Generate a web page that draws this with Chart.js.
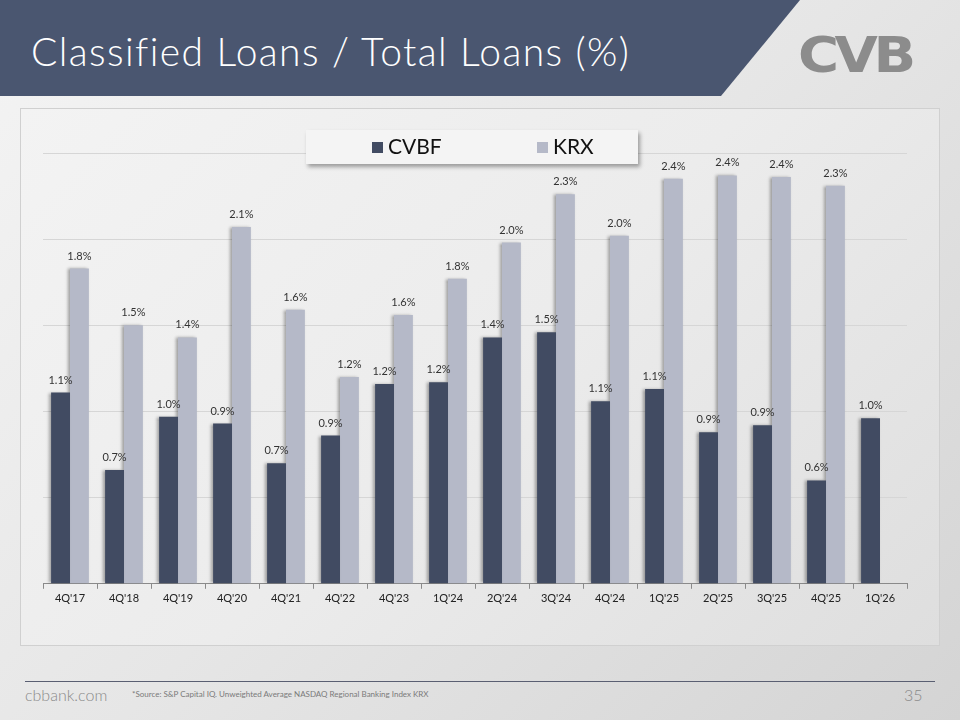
<!DOCTYPE html>
<html>
<head>
<meta charset="utf-8">
<script src="https://cdn.jsdelivr.net/npm/chart.js@4.4.1/dist/chart.umd.min.js"></script>
<style>
  html, body { margin:0; padding:0; }
  body { width:960px; height:720px; position:relative; overflow:hidden;
         background: linear-gradient(135deg, #f4f4f4 0%, #e6e6e6 50%, #d4d4d4 100%);
         font-family: "Lato", "DejaVu Sans", sans-serif; }
  #banner { position:absolute; left:0; top:0; width:960px; height:96px;
            background:#4a5670; clip-path: polygon(0 0, 800px 0, 721px 96px, 0 96px);
            filter: drop-shadow(0 2px 2px rgba(0,0,0,0.4)); }
  #title { position:absolute; left:31px; top:28px; color:#fff; font-size:39px; font-weight:300;
           font-family:"Lato", sans-serif; letter-spacing:1.4px; white-space:nowrap; }
  #logo { position:absolute; left:798px; top:26px; color:#8c8c8c; font-family:"DejaVu Sans", sans-serif;
          font-weight:bold; font-size:50px; letter-spacing:-4px; transform:scaleX(1.12); transform-origin:left top; }
  #box { position:absolute; left:20px; top:108px; width:920px; height:538px;
         border:1px solid #d0d0d0; box-sizing:border-box;
         background: linear-gradient(135deg, #f3f3f3 0%, #ececec 50%, #dedede 100%); }
  #chartwrap { position:absolute; left:20px; top:108px; width:920px; height:538px; }
  #legend { position:absolute; left:306px; top:130px; width:332px; height:34px; background:#f4f4f4;
            box-shadow: 2px 3px 4px rgba(0,0,0,0.35); font-family:"Lato", sans-serif; font-size:21px; color:#111; }
  .lg { position:absolute; top:3px; white-space:nowrap; }
  .sw { display:inline-block; width:11px; height:11px; margin-right:5px; vertical-align:1px; }
  #footline { position:absolute; left:25px; top:681px; width:910px; height:1px; background:#5a5f72; }
  #site { position:absolute; left:25px; top:685px; font-size:16px; color:#8a8a8a; font-family:"Lato", sans-serif; font-weight:300; }
  #src { position:absolute; left:132px; top:689px; font-size:8px; color:#7a7a7a; font-family:"Lato", sans-serif; }
  #page { position:absolute; left:904px; top:685px; font-size:16px; color:#8a8a8a; font-family:"Lato", sans-serif; font-weight:300; }
</style>
</head>
<body>
<div id="banner"></div>
<div id="title">Classified Loans / Total Loans (%)</div>
<div id="logo">CVB</div>
<div id="box"></div>
<div id="chartwrap"><canvas id="c" width="920" height="538"></canvas></div>
<div id="legend">
  <span class="lg" style="left:66px"><span class="sw" style="background:#414b62"></span>CVBF</span>
  <span class="lg" style="left:231px"><span class="sw" style="background:#b5b9c8"></span>KRX</span>
</div>
<div id="footline"></div>
<div id="site">cbbank.com</div>
<div id="src">*Source: S&amp;P Capital IQ. Unweighted Average NASDAQ Regional Banking Index KRX</div>
<div id="page">35</div>
<script>
const categories = ["4Q'17","4Q'18","4Q'19","4Q'20","4Q'21","4Q'22","4Q'23","1Q'24","2Q'24","3Q'24","4Q'24","1Q'25","2Q'25","3Q'25","4Q'25","1Q'26"];
const cvbf = [1.11, 0.66, 0.97, 0.93, 0.70, 0.86, 1.16, 1.17, 1.43, 1.46, 1.06, 1.13, 0.88, 0.92, 0.60, 0.96];
const krx  = [1.83, 1.50, 1.43, 2.07, 1.59, 1.20, 1.56, 1.77, 1.98, 2.26, 2.02, 2.35, 2.37, 2.36, 2.31, null];
const seriesNames = ["CVBF", "KRX"];

const labelPlugin = {
  id: 'barLabels',
  afterDatasetsDraw(chart) {
    const ctx = chart.ctx;
    ctx.save();
    ctx.font = '11px Lato, "DejaVu Sans", sans-serif';
    ctx.fillStyle = '#333';
    ctx.textAlign = 'center';
    ctx.textBaseline = 'bottom';
    chart.data.datasets.forEach((ds, di) => {
      const meta = chart.getDatasetMeta(di);
      meta.data.forEach((bar, i) => {
        const v = ds.data[i];
        if (v === null || v === undefined) return;
        ctx.fillText(v.toFixed(1) + '%', bar.x, bar.y - 7);
      });
    });
    ctx.restore();
  }
};
const shadowPlugin = {
  id: 'barShadow',
  beforeDatasetDraw(chart, args) {
    const ctx = chart.ctx;
    ctx.save();
    ctx.shadowColor = 'rgba(0,0,0,0.35)';
    ctx.shadowBlur = 3;
    ctx.shadowOffsetX = -2;
    ctx.shadowOffsetY = 0;
  },
  afterDatasetDraw(chart) { chart.ctx.restore(); }
};

new Chart(document.getElementById('c'), {
  type: 'bar',
  data: {
    labels: categories,
    datasets: [
      { label: seriesNames[0], data: cvbf, backgroundColor: '#414b62', categoryPercentage: 0.7, barPercentage: 1.0 },
      { label: seriesNames[1], data: krx, backgroundColor: '#b5b9c8', categoryPercentage: 0.7, barPercentage: 1.0 }
    ]
  },
  options: {
    responsive: false,
    animation: false,
    devicePixelRatio: 1,
    layout: { padding: { left: 23, right: 33, top: 45, bottom: 38 } },
    plugins: { legend: { display: false }, tooltip: { enabled: false } },
    scales: {
      x: {
        grid: { display: true, drawOnChartArea: false, drawTicks: true, tickLength: 5, color: '#8a8a8a', offset: true },
        border: { display: true, color: '#8a8a8a' },
        ticks: { color: '#222', font: { size: 11, family: 'Lato, "DejaVu Sans", sans-serif' }, padding: 3, maxRotation: 0 }
      },
      y: {
        min: 0, max: 2.5,
        ticks: { display: false, stepSize: 0.5 },
        border: { display: false },
        grid: { color: '#d6d6d6', drawTicks: false }
      }
    }
  },
  plugins: [shadowPlugin, labelPlugin]
});
</script>
</body>
</html>
